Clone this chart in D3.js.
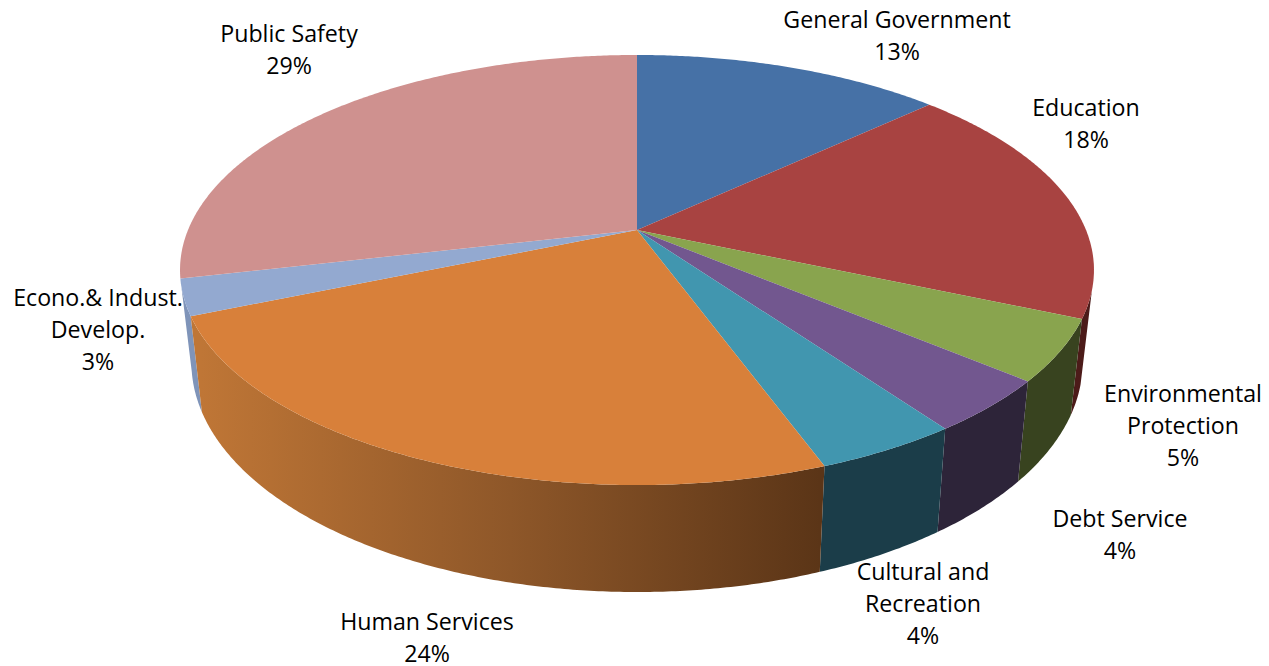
<!DOCTYPE html>
<html>
<head>
<meta charset="utf-8">
<script src="https://cdn.jsdelivr.net/npm/d3@7"></script>
<style>
  html, body { margin: 0; padding: 0; background: #fff; }
  svg { display: block; }
</style>
</head>
<body>
<script>
const categories = ["General Government", "Education", "Environmental Protection", "Debt Service",
  "Cultural and Recreation", "Human Services", "Econo.& Indust. Develop.", "Public Safety"];
const shares = [13.1, 18.4, 4.6, 4.0, 4.3, 24.3, 2.7, 28.6];

const topColors = ["#4671a6", "#a84341", "#89a44e", "#72578f", "#4196af", "#d8803a", "#93a9d0", "#cf918f"];
const wallColors = ["#2b4565", "#4c1b19", "#38431f", "#2d2439", "#1b3d49", null, "#7f94b9", "#8a5d5c"];

// Each category's label lines and where its block sits
const labelLines = [["General Government"], ["Education"], ["Environmental", "Protection"], ["Debt Service"],
  ["Cultural and", "Recreation"], ["Human Services"], ["Econo.& Indust.", "Develop."], ["Public Safety"]];
const labelX = [897, 1086, 1183, 1120, 923, 427, 98, 289];
const labelY = [27.5, 115.5, 401.5, 526.5, 579.5, 629.5, 305.5, 41.5];

const width = 1269;
const height = 666;
const cx = 637;
const cy = 230;
const lineHeight = 32;

// perspective of the tilted disc: the back is squeezed, the front stretched
const persp = 0.186;
const halfW = 449;
const halfH = 207.6;
// the underside, mapped from the top face
const baseX = d3.scaleLinear().domain([cx - 100, cx + 100]).range([cx - 97.5, cx + 97.5]);
const baseY = d3.scaleLinear().domain([319, 485]).range([415, 592]);

// angles where the side wall turns away from the viewer
const wallFrom = 106 * Math.PI / 180;
const wallTo = 257 * Math.PI / 180;

const pie = d3.pie().sort(null).value(d => d);
const arcs = pie(shares);
const total = d3.sum(shares);
const pct = d3.format(".0%");

function topPoint(a) {
  const u = Math.sin(a), v = Math.cos(a);
  const d = 1 + persp * v;
  return [cx + halfW * u / d, cy - halfH * v / d];
}
const basePoint = a => {
  const p = topPoint(a);
  return [baseX(p[0]), baseY(p[1])];
};
// sample an arc, one point per half degree or so
function sample(a0, a1, f) {
  const n = Math.max(2, Math.ceil(Math.abs(a1 - a0) / 0.008));
  return d3.range(n + 1).map(i => f(a0 + (a1 - a0) * i / n));
}

const line = d3.line();

const svg = d3.select("body").append("svg")
  .attr("width", width)
  .attr("height", height)
  .attr("viewBox", [0, 0, width, height]);

// Human Services has the shaded wall, lit from the left
const defs = svg.append("defs");
const grad = defs.append("linearGradient")
  .attr("id", "humanWall")
  .attr("gradientUnits", "userSpaceOnUse")
  .attr("x1", 201).attr("x2", 820).attr("y1", 0).attr("y2", 0);
grad.append("stop").attr("offset", "0%").attr("stop-color", "#bf7636");
grad.append("stop").attr("offset", "50%").attr("stop-color", "#8e5729");
grad.append("stop").attr("offset", "100%").attr("stop-color", "#5b3517");

// side walls, back to front
const walls = arcs
  .map((d, i) => ({
    i,
    a0: Math.max(d.startAngle, wallFrom),
    a1: Math.min(d.endAngle, wallTo)
  }))
  .filter(d => d.a1 > d.a0)
  .sort((a, b) => topPoint((a.a0 + a.a1) / 2)[1] - topPoint((b.a0 + b.a1) / 2)[1]);

svg.append("g")
  .selectAll("path")
  .data(walls)
  .join("path")
  .attr("d", d => line(sample(d.a0, d.a1, topPoint).concat(sample(d.a1, d.a0, basePoint))) + "Z")
  .attr("fill", d => wallColors[d.i] || "url(#humanWall)");

// top face
svg.append("g")
  .selectAll("path")
  .data(arcs)
  .join("path")
  .attr("d", d => line([[cx, cy]].concat(sample(d.startAngle, d.endAngle, topPoint))) + "Z")
  .attr("fill", (d, i) => topColors[i]);

// labels
const labels = svg.append("g")
  .attr("font-family", "'Open Sans', Lato, sans-serif")
  .attr("font-size", 23.2)
  .attr("fill", "#000")
  .attr("text-anchor", "middle")
  .selectAll("text")
  .data(categories)
  .join("text")
  .attr("x", (d, i) => labelX[i])
  .attr("y", (d, i) => labelY[i]);

labels.each(function(d, i) {
  const rows = labelLines[i].concat(pct(shares[i] / total));
  d3.select(this).selectAll("tspan")
    .data(rows)
    .join("tspan")
    .attr("x", labelX[i])
    .attr("dy", (r, k) => k ? lineHeight : 0)
    .text(r => r);
});
</script>
</body>
</html>
